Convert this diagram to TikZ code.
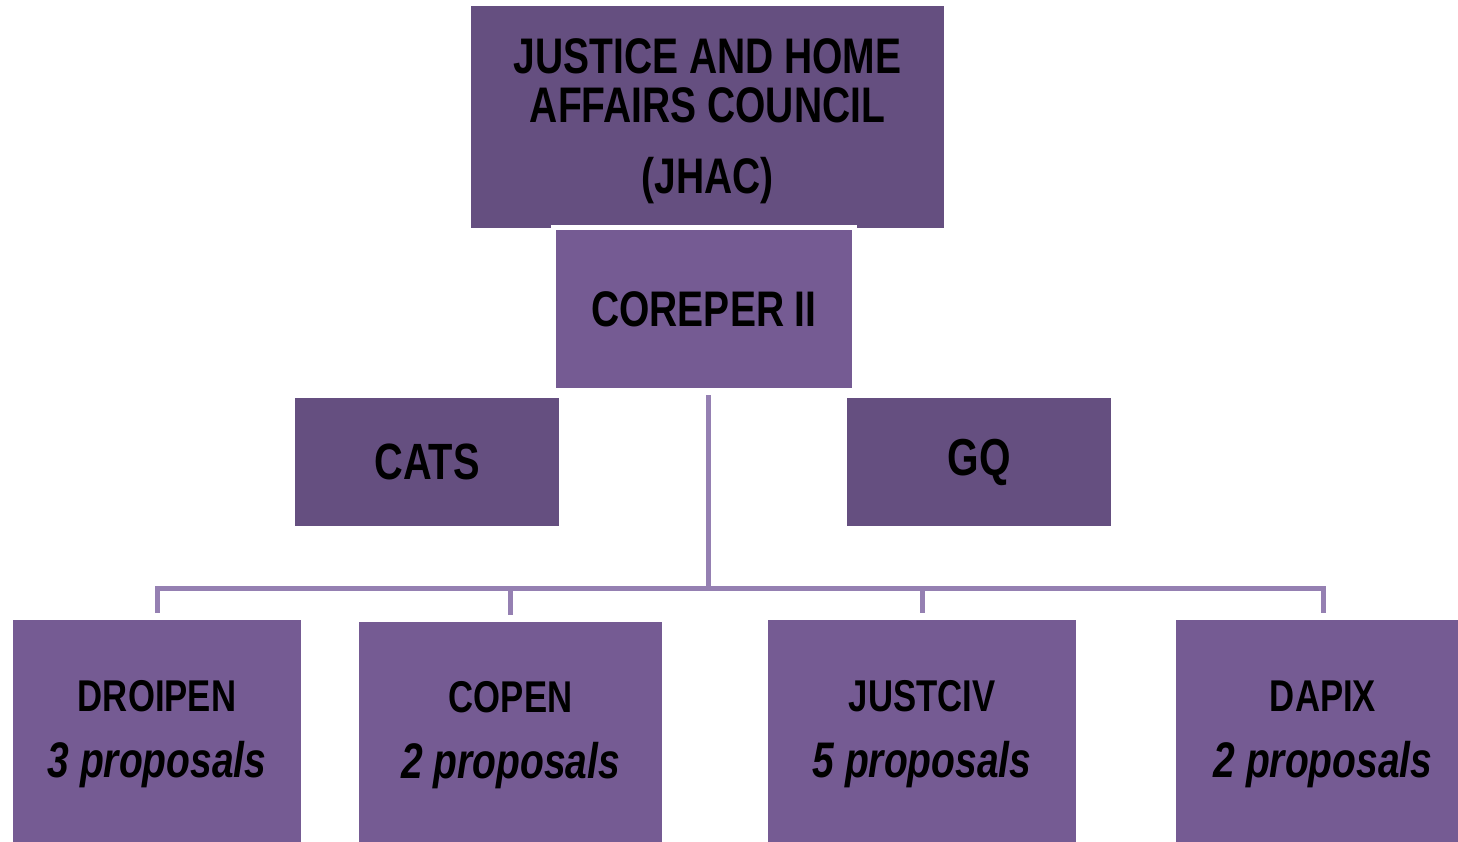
\documentclass[tikz,border=0pt]{standalone}
\usepackage{fontspec}
\setmainfont{Liberation Sans}[FakeStretch=0.78]
\definecolor{darkp}{HTML}{654F80}
\definecolor{lightp}{HTML}{755B93}
\definecolor{linep}{HTML}{9580B2}
\begin{document}
\begin{tikzpicture}[x=1pt,y=-1pt,
  box/.style={rectangle, inner sep=0pt, align=center, text=black, font=\bfseries},
  dbox/.style={box, fill=darkp},
  lbox/.style={box, fill=lightp},
  conn/.style={draw=linep, line width=5pt}]
\useasboundingbox (0,0) rectangle (1458,842);
\fill[white] (0,0) rectangle (1458,842);
\node[dbox, minimum width=473pt, minimum height=222pt, font=\bfseries\fontsize{50}{48}\selectfont] (jhac) at (707.5,117) {\raisebox{-12pt}[0pt][0pt]{\begin{tabular}{@{}c@{}}JUSTICE AND HOME\\AFFAIRS COUNCIL\\[20pt](JHAC)\end{tabular}}};
\node[lbox, draw=white, line width=5pt, minimum width=301pt, minimum height=163pt, font=\bfseries\fontsize{50}{56}\selectfont] (corep) at (704,309) {COREPER II};
\node[dbox, minimum width=264pt, minimum height=128pt, font=\bfseries\fontsize{51}{56}\selectfont] (cats) at (427,462) {CATS};
\node[dbox, minimum width=264pt, minimum height=128pt, font=\bfseries\fontsize{52}{56}\selectfont] (gq) at (979,462) {GQ};
\tikzset{sub/.style={lbox, minimum height=229pt, font=\bfseries\fontsize{44.5}{66}\selectfont}}
\newcommand{\props}[1]{\fontsize{50}{66}\selectfont\itshape #1}
\node[sub, minimum width=288pt] (droipen) at (157,734.5) {DROIPEN\\\props{3 proposals}};
\node[sub, minimum width=303pt, minimum height=227pt] (copen) at (510.5,735.5) {COPEN\\\props{2 proposals}};
\node[sub, minimum width=308pt] (justciv) at (922,734.5) {JUSTCIV\\\props{5 proposals}};
\node[sub, minimum width=294pt] (dapix) at (1323,734.5) {DAPIX\\\props{2 proposals}};
\coordinate (top) at (708,395);
\coordinate (hub) at (708,588);
\draw[conn] (top) -- (hub);
\draw[conn] (hub) -| ([yshift=7pt]droipen.north);
\draw[conn] (hub) -| ([yshift=7pt]copen.north);
\draw[conn] (hub) -| ([yshift=7pt]justciv.north);
\draw[conn] (hub) -| ([yshift=7pt]dapix.north);
\end{tikzpicture}
\end{document}
